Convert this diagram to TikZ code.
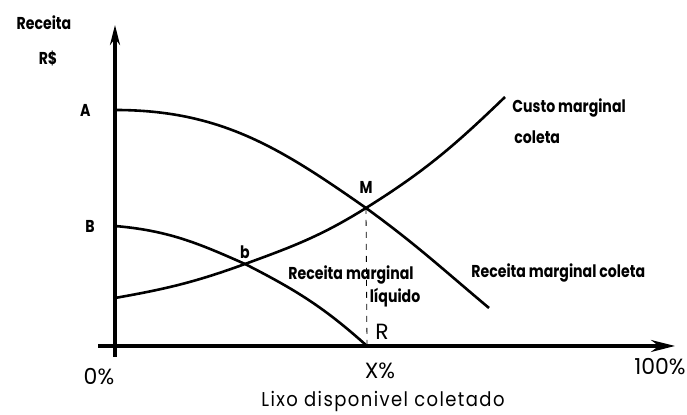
\documentclass[tikz,border=0pt]{standalone}
\usepackage{fontspec}
\setmainfont{Poppins}[FakeStretch=0.82]
\newfontfamily\plainfont{Poppins}
\newfontfamily\spacedfont{Poppins}[FakeStretch=0.9,LetterSpace=7]
\usetikzlibrary{arrows.meta,positioning}
\tikzset{>={Stealth[length=10pt,width=5pt]}}
\tikzset{curve/.style={line width=1.3pt},
         axis line/.style={line width=1.6pt},
         lbl/.style={font=\fontsize{8.6}{10}\selectfont\bfseries,inner sep=1pt},
         thin lbl/.style={font=\plainfont\fontsize{11}{12}\selectfont,inner sep=1pt},
            }

\begin{document}
\begin{tikzpicture}[x=0.5pt,y=0.5pt]
    \useasboundingbox (0,0) rectangle (687,415);

    \coordinate (ybot) at (115,58);
    \coordinate (ytop) at (115,390);
    \coordinate (xleft) at (98,69);
    \coordinate (xright) at (675,69);
    \coordinate (A0) at (115,305);
    \coordinate (B0) at (115,189);
    \coordinate (C0) at (115,117);
    \coordinate (b) at (245,151);
    \coordinate (M) at (366,207);
    \coordinate (R) at (367,69);
    \coordinate (E1) at (489,107);
    \coordinate (E2) at (505,318);

    \draw[axis line,->] (ybot) -- (ytop);
    \draw[axis line,-{Stealth[length=12pt,width=6pt]}] (xleft) -- (xright);

    \path[draw,curve]
    (A0) edge [out=0, in=145] (M)
    (M) edge [out=-36, in=140] (E1);

    \path[draw,curve]
    (B0) edge [out=-5, in=156] (b)
    (b) edge [out=-27, in=138] (R);

    \path[draw,curve]
    (C0) edge [out=10, in=200] (b)
    (b) edge [out=20, in=212] (M)
    (M) edge [out=32, in=224] (E2);

    \path[draw,thin,dashed] (M) edge (R);

    \node[lbl] (rec) at (44,392) {Receita};
    \node[lbl] (rs) at (48,357) {R\$};
    \node[lbl] (la) [left = 11pt of A0] {A};
    \node[lbl] (lb) [left = 9pt of B0] {B};
    \node[lbl] (lm) [above = 6pt of M] {M};
    \node[lbl] (lsb) [above = 1.5pt of b] {b};
    \node[thin lbl] (lr) [above right = 2pt and 3pt of R] {R};

    \node[lbl] (rml) at (351,140) {Receita marginal};
    \node[lbl] (liq) at (395,117) {líquido};
    \node[lbl,anchor=west] (rmc) at (469,142) {Receita marginal coleta};
    \node[lbl,anchor=west] (cm) at (510,307) {Custo marginal};
    \node[lbl,anchor=west] (cmc) at (512,278) {coleta};

    \node[thin lbl] (p0) at (99,38) {0\%};
    \node[thin lbl] (px) at (380,44) {X\%};
    \node[thin lbl] (p100) at (660,48) {100\%};
    \node[thin lbl,font=\spacedfont\fontsize{10}{12}\selectfont] (lixo) at (383,13) {Lixo disponivel coletado};

\end{tikzpicture}
\end{document}
